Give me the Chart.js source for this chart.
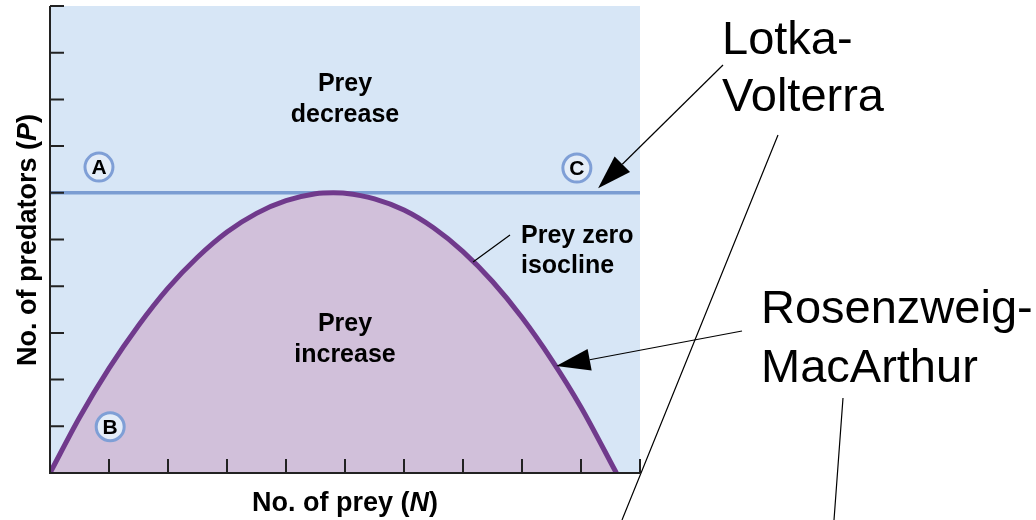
<!DOCTYPE html>
<html>
<head>
<meta charset="utf-8">
<script src="https://cdn.jsdelivr.net/npm/chart.js@4"></script>
<style>
  body { margin: 0; background: #fff; }
  #wrap { width: 1036px; height: 520px; }
</style>
</head>
<body>
<div id="wrap"><canvas id="chart"></canvas></div>
<script>
// prey zero isocline (Rosenzweig-MacArthur hump)
const preyN = [0, 0.5, 1, 1.5, 2, 2.5, 3, 3.5, 4, 4.5, 4.8, 5, 5.5, 6, 6.5, 7, 7.5, 8, 8.5, 9, 9.6];
const predP = [0, 1.19, 2.24, 3.16, 3.96, 4.62, 5.16, 5.56, 5.83, 5.98, 6, 5.99, 5.87, 5.63, 5.25, 4.74, 4.10, 3.33, 2.43, 1.41, 0];

// Lotka-Volterra isocline (flat)
const lvN = [0, 10];
const lvP = [6, 6];

// lettered markers
const markerLetters = ['A', 'B', 'C'];
const markerN = [0.83, 1.02, 8.93];
const markerP = [6.55, 0.99, 6.53];

// tick values (no labels)
const xTicks = [0, 1, 2, 3, 4, 5, 6, 7, 8, 9, 10];
const yTicks = [0, 1, 2, 3, 4, 5, 6, 7, 8, 9, 10];

const bgBlue = '#d7e6f6';
const purpleFill = '#d1c0da';
const purpleLine = '#703a8c';
const lvBlue = '#7b9dd2';

const bold = 'bold 25px "Liberation Sans", Arial, sans-serif';
const titleFont = 'bold 27px "Liberation Sans", Arial, sans-serif';

const decor = {
    id: 'decor',
    beforeDatasetsDraw(chart) {
        const { ctx, chartArea: a } = chart;
        ctx.save();
        ctx.fillStyle = bgBlue;
        ctx.fillRect(a.left, a.top, a.right - a.left, a.bottom - a.top);
        ctx.restore();
    },
    afterDatasetsDraw(chart) {
        const { ctx, chartArea: a, scales: { x, y } } = chart;
        ctx.save();

        // inward tick marks
        ctx.strokeStyle = '#222';
        ctx.lineWidth = 2;
        ctx.beginPath();
        yTicks.forEach(v => {
            const py = y.getPixelForValue(v);
            ctx.moveTo(a.left, py);
            ctx.lineTo(a.left + 14, py);
        });
        xTicks.forEach(v => {
            const px = x.getPixelForValue(v);
            ctx.moveTo(px, a.bottom);
            ctx.lineTo(px, a.bottom - 14);
        });
        ctx.stroke();

        // axes
        ctx.beginPath();
        ctx.moveTo(a.left, a.top);
        ctx.lineTo(a.left, a.bottom);
        ctx.lineTo(a.right, a.bottom);
        ctx.stroke();

        // marker letters
        ctx.fillStyle = '#000';
        ctx.font = 'bold 21px "Liberation Sans", Arial, sans-serif';
        ctx.textAlign = 'center';
        ctx.textBaseline = 'middle';
        markerLetters.forEach((l, i) => {
            ctx.fillText(l, x.getPixelForValue(markerN[i]), y.getPixelForValue(markerP[i]) + 1);
        });

        // region labels
        ctx.font = bold;
        ctx.textBaseline = 'alphabetic';
        const cx = x.getPixelForValue(5);
        ctx.fillText('Prey', cx, 91);
        ctx.fillText('decrease', cx, 122);
        ctx.fillText('Prey', cx, 331);
        ctx.fillText('increase', cx, 362);
        ctx.textAlign = 'left';
        ctx.fillText('Prey zero', 521, 243);
        ctx.fillText('isocline', 521, 273);

        // pointer lines
        ctx.strokeStyle = '#000';
        ctx.lineWidth = 1.2;
        ctx.beginPath();
        ctx.moveTo(510, 235);
        ctx.lineTo(x.getPixelForValue(7.17), y.getPixelForValue(4.52));
        ctx.moveTo(778, 135);
        ctx.lineTo(622, 520);
        ctx.moveTo(843, 398);
        ctx.lineTo(834, 520);
        ctx.stroke();

        arrow(ctx, 723, 65, x.getPixelForValue(9.29), y.getPixelForValue(6.1));
        arrow(ctx, 742, 331, x.getPixelForValue(8.58), y.getPixelForValue(2.29));

        // model names
        ctx.font = '47px "Liberation Sans", Arial, sans-serif';
        ctx.fillText('Lotka-', 722, 54);
        ctx.fillText('Volterra', 722, 111);
        ctx.fillText('Rosenzweig-', 761, 323);
        ctx.fillText('MacArthur', 761, 382);

        // axis titles with italic variable
        titleParts(ctx, [['No. of prey (', titleFont], ['N', 'italic ' + titleFont], [')', titleFont]], 345, 511, 0);
        titleParts(ctx, [['No. of predators (', titleFont], ['P', 'italic ' + titleFont], [')', titleFont]], 36, 240, -Math.PI / 2);

        ctx.restore();
    }
};

function arrow(ctx, x1, y1, x2, y2) {
    const ang = Math.atan2(y2 - y1, x2 - x1);
    const len = 34, half = 11;
    const bx = x2 - len * Math.cos(ang), by = y2 - len * Math.sin(ang);
    ctx.beginPath();
    ctx.moveTo(x1, y1);
    ctx.lineTo(bx, by);
    ctx.stroke();
    ctx.beginPath();
    ctx.moveTo(x2, y2);
    ctx.lineTo(bx + half * Math.sin(ang), by - half * Math.cos(ang));
    ctx.lineTo(bx - half * Math.sin(ang), by + half * Math.cos(ang));
    ctx.closePath();
    ctx.fillStyle = '#000';
    ctx.fill();
}

function titleParts(ctx, parts, cx, cy, rot) {
    ctx.save();
    ctx.translate(cx, cy);
    ctx.rotate(rot);
    ctx.textAlign = 'left';
    ctx.textBaseline = 'alphabetic';
    let total = 0;
    parts.forEach(p => { ctx.font = p[1]; total += ctx.measureText(p[0]).width; });
    let px = -total / 2;
    parts.forEach(p => {
        ctx.font = p[1];
        ctx.fillStyle = '#000';
        ctx.fillText(p[0], px, 0);
        px += ctx.measureText(p[0]).width;
    });
    ctx.restore();
}

new Chart(document.getElementById('chart'), {
    type: 'scatter',
    data: {
        datasets: [
            {
                data: lvN.map((n, i) => ({ x: n, y: lvP[i] })),
                showLine: true,
                borderColor: lvBlue,
                borderWidth: 3.5,
                pointRadius: 0,
                order: 3
            },
            {
                data: preyN.map((n, i) => ({ x: n, y: predP[i] })),
                showLine: true,
                borderColor: purpleLine,
                borderWidth: 5,
                backgroundColor: purpleFill,
                fill: 'origin',
                cubicInterpolationMode: 'monotone',
                pointRadius: 0,
                order: 2
            },
            {
                data: markerN.map((n, i) => ({ x: n, y: markerP[i] })),
                pointRadius: 14,
                pointBorderWidth: 3,
                pointBorderColor: '#7f9fd6',
                pointBackgroundColor: '#e4edf8',
                order: 1
            }
        ]
    },
    options: {
        responsive: true,
        maintainAspectRatio: false,
        animation: false,
        layout: { autoPadding: false, padding: { left: 50, right: 396, top: 6, bottom: 47 } },
        plugins: { legend: { display: false }, tooltip: { enabled: false } },
        scales: {
            x: {
                type: 'linear', min: 0, max: 10,
                ticks: { display: false },
                grid: { display: false },
                border: { display: false },
                afterFit: s => { s.height = 0; }
            },
            y: {
                min: 0, max: 10,
                ticks: { display: false },
                grid: { display: false },
                border: { display: false },
                afterFit: s => { s.width = 0; }
            }
        }
    },
    plugins: [decor]
});
</script>
</body>
</html>
